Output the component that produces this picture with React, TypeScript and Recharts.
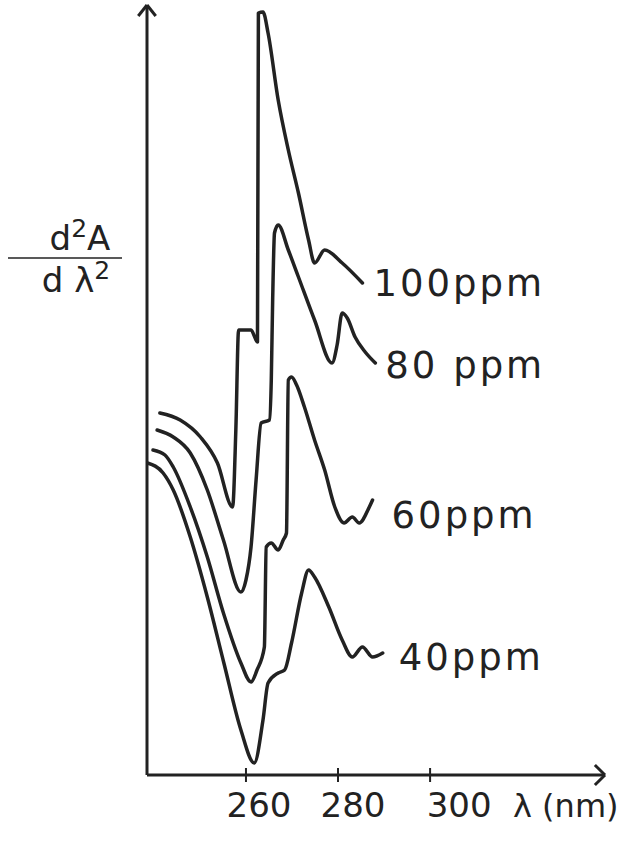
import React from 'react';
import { LineChart, Line, XAxis, YAxis, ReferenceLine } from 'recharts';

type Pt = { x: number; y: number };

// wavelength (nm) vs second derivative (arbitrary units)
const wavelengthTicks = [260, 280, 300];

const ppm100: Pt[] = [
  { x: 241.3, y: 36.2 }, { x: 245.7, y: 35.5 }, { x: 250.1, y: 33.8 }, { x: 253.8, y: 31.2 },
  { x: 257.1, y: 26.8 }, { x: 257.8, y: 34.5 }, { x: 258.4, y: 44.5 }, { x: 261.1, y: 44.5 },
  { x: 262.5, y: 43.3 }, { x: 262.7, y: 76.2 }, { x: 263.7, y: 76.3 }, { x: 264.8, y: 74.2 },
  { x: 267.0, y: 67.5 }, { x: 269.2, y: 62.5 }, { x: 271.4, y: 58.2 }, { x: 273.6, y: 53.5 },
  { x: 274.9, y: 51.2 }, { x: 277.1, y: 52.5 }, { x: 280.9, y: 51.2 }, { x: 285.3, y: 49.2 },
];

const ppm80: Pt[] = [
  { x: 240.7, y: 34.5 }, { x: 244.2, y: 33.8 }, { x: 247.9, y: 32.2 }, { x: 251.6, y: 28.5 },
  { x: 255.1, y: 23.5 }, { x: 258.9, y: 18.3 }, { x: 260.0, y: 19.5 }, { x: 261.1, y: 22.8 },
  { x: 262.2, y: 29.5 }, { x: 263.3, y: 35.2 }, { x: 265.1, y: 35.5 }, { x: 265.5, y: 39.5 },
  { x: 265.8, y: 47.5 }, { x: 266.2, y: 54.2 }, { x: 267.0, y: 55.0 }, { x: 269.2, y: 52.5 },
  { x: 271.4, y: 49.8 }, { x: 274.9, y: 45.5 }, { x: 278.7, y: 41.2 }, { x: 279.8, y: 43.0 },
  { x: 280.9, y: 46.2 }, { x: 282.0, y: 45.7 }, { x: 283.7, y: 43.8 }, { x: 285.9, y: 42.3 },
  { x: 288.1, y: 41.2 },
];

const ppm60: Pt[] = [
  { x: 239.8, y: 32.5 }, { x: 242.4, y: 32.0 }, { x: 244.2, y: 30.8 }, { x: 247.9, y: 26.8 },
  { x: 251.6, y: 21.8 }, { x: 255.1, y: 16.2 }, { x: 258.9, y: 11.2 }, { x: 261.1, y: 9.3 },
  { x: 262.4, y: 10.5 }, { x: 264.0, y: 12.8 }, { x: 264.4, y: 22.8 }, { x: 265.5, y: 23.2 },
  { x: 267.0, y: 22.5 }, { x: 268.1, y: 23.5 }, { x: 268.8, y: 24.2 }, { x: 269.2, y: 39.5 },
  { x: 269.9, y: 39.8 }, { x: 271.0, y: 39.0 }, { x: 272.7, y: 36.8 }, { x: 274.9, y: 33.5 },
  { x: 277.1, y: 30.5 }, { x: 279.3, y: 26.8 }, { x: 281.3, y: 25.2 }, { x: 283.1, y: 25.8 },
  { x: 284.6, y: 25.2 }, { x: 286.8, y: 26.8 }, { x: 287.5, y: 27.5 },
];

const ppm40: Pt[] = [
  { x: 238.6, y: 31.2 }, { x: 242.0, y: 30.2 }, { x: 244.2, y: 28.5 }, { x: 247.9, y: 23.8 },
  { x: 251.6, y: 17.8 }, { x: 255.2, y: 11.2 }, { x: 258.9, y: 4.5 }, { x: 261.8, y: 1.2 },
  { x: 263.7, y: 5.5 }, { x: 264.8, y: 9.2 }, { x: 267.0, y: 10.2 }, { x: 268.4, y: 10.5 },
  { x: 269.9, y: 13.2 }, { x: 272.1, y: 18.2 }, { x: 273.6, y: 20.5 }, { x: 274.9, y: 19.8 },
  { x: 278.0, y: 16.8 }, { x: 280.9, y: 13.5 }, { x: 283.1, y: 11.8 }, { x: 285.3, y: 12.8 },
  { x: 287.5, y: 11.8 }, { x: 289.7, y: 12.2 },
];

const seriesNames = ['100ppm', '80 ppm', '60ppm', '40ppm'];
const seriesData = [ppm100, ppm80, ppm60, ppm40];

const INK = '#222';
const labelFont = '"DejaVu Sans", sans-serif';
// label nudges (px) next to the end of each curve
const labelNudge = [
  { dx: 11, dy: 0 },
  { dx: 10, dy: 2 },
  { dx: 19, dy: 15 },
  { dx: 16, dy: 4 },
];
// the printed tick numbers sit a little right of their tick marks
const tickTextShift: Record<number, number> = { 260: 13, 280: 15, 300: 29 };

const endLabel = (text: string, count: number, nudge: { dx: number; dy: number }) => (props: any) => {
  if (props.index !== count - 1) return null;
  return (
    <text
      x={props.x + nudge.dx}
      y={props.y + nudge.dy}
      dy="0.36em"
      fill={INK}
      fontSize={37}
      fontFamily={labelFont}
      letterSpacing={3}
    >
      {text}
    </text>
  );
};

const WaveTick = (props: any) => {
  const { x, y, payload } = props;
  return (
    <g>
      <line x1={x} x2={x} y1={y - 7} y2={y + 7} stroke={INK} strokeWidth={2} />
      <text
        x={x + (tickTextShift[payload.value] ?? 0)}
        y={y + 42}
        textAnchor="middle"
        fill={INK}
        fontSize={34}
        fontFamily={labelFont}
      >
        {payload.value}
      </text>
    </g>
  );
};

const XTitle = (props: any) => {
  const vb = props.viewBox || { x: 147, y: 775 };
  return (
    <text x={vb.x + 366} y={vb.y + 42} fill={INK} fontSize={32} fontFamily={labelFont}>
      λ (nm)
    </text>
  );
};

const YTitle = () => (
  <g fill={INK} fontFamily={labelFont} fontSize={34}>
    <text x={80} y={250} textAnchor="middle">
      d<tspan fontSize={25} dy={-13}>2</tspan><tspan dy={13}>A</tspan>
    </text>
    <line x1={8} x2={122} y1={258} y2={258} stroke={INK} strokeWidth={1.5} />
    <text x={76} y={292} textAnchor="middle">
      d λ<tspan fontSize={25} dy={-13}>2</tspan>
    </text>
  </g>
);

export default function App() {
  return (
    <div style={{ position: 'absolute', left: 0, top: 0, background: '#fff' }}>
      <LineChart width={627} height={843} margin={{ top: 5, right: 22, bottom: 0, left: 0 }}>
        <XAxis
          type="number"
          dataKey="x"
          domain={[238.5, 338]}
          ticks={wavelengthTicks}
          allowDataOverflow
          height={68}
          tickSize={0}
          tickMargin={0}
          tickLine={false}
          axisLine={{ stroke: INK, strokeWidth: 3 }}
          tick={<WaveTick />}
          label={<XTitle />}
        />
        <YAxis
          type="number"
          dataKey="y"
          domain={[0, 77]}
          width={147}
          tick={false}
          tickLine={false}
          axisLine={{ stroke: INK, strokeWidth: 3 }}
          label={<YTitle />}
        />
        {/* arrow heads */}
        <ReferenceLine segment={[{ x: 338, y: 0 }, { x: 335.8, y: 1.0 }]} stroke={INK} strokeWidth={3} ifOverflow="visible" />
        <ReferenceLine segment={[{ x: 338, y: 0 }, { x: 335.8, y: -1.0 }]} stroke={INK} strokeWidth={3} ifOverflow="visible" />
        <ReferenceLine segment={[{ x: 238.5, y: 77 }, { x: 236.6, y: 75.9 }]} stroke={INK} strokeWidth={3} ifOverflow="visible" />
        <ReferenceLine segment={[{ x: 238.5, y: 77 }, { x: 240.4, y: 75.9 }]} stroke={INK} strokeWidth={3} ifOverflow="visible" />
        {seriesData.map((d, i) => (
          <Line
            key={seriesNames[i]}
            data={d}
            dataKey="y"
            type="monotone"
            stroke={INK}
            strokeWidth={3.5}
            strokeLinejoin="round"
            strokeLinecap="round"
            dot={false}
            isAnimationActive={false}
            label={endLabel(seriesNames[i], d.length, labelNudge[i])}
          />
        ))}
      </LineChart>
    </div>
  );
}
